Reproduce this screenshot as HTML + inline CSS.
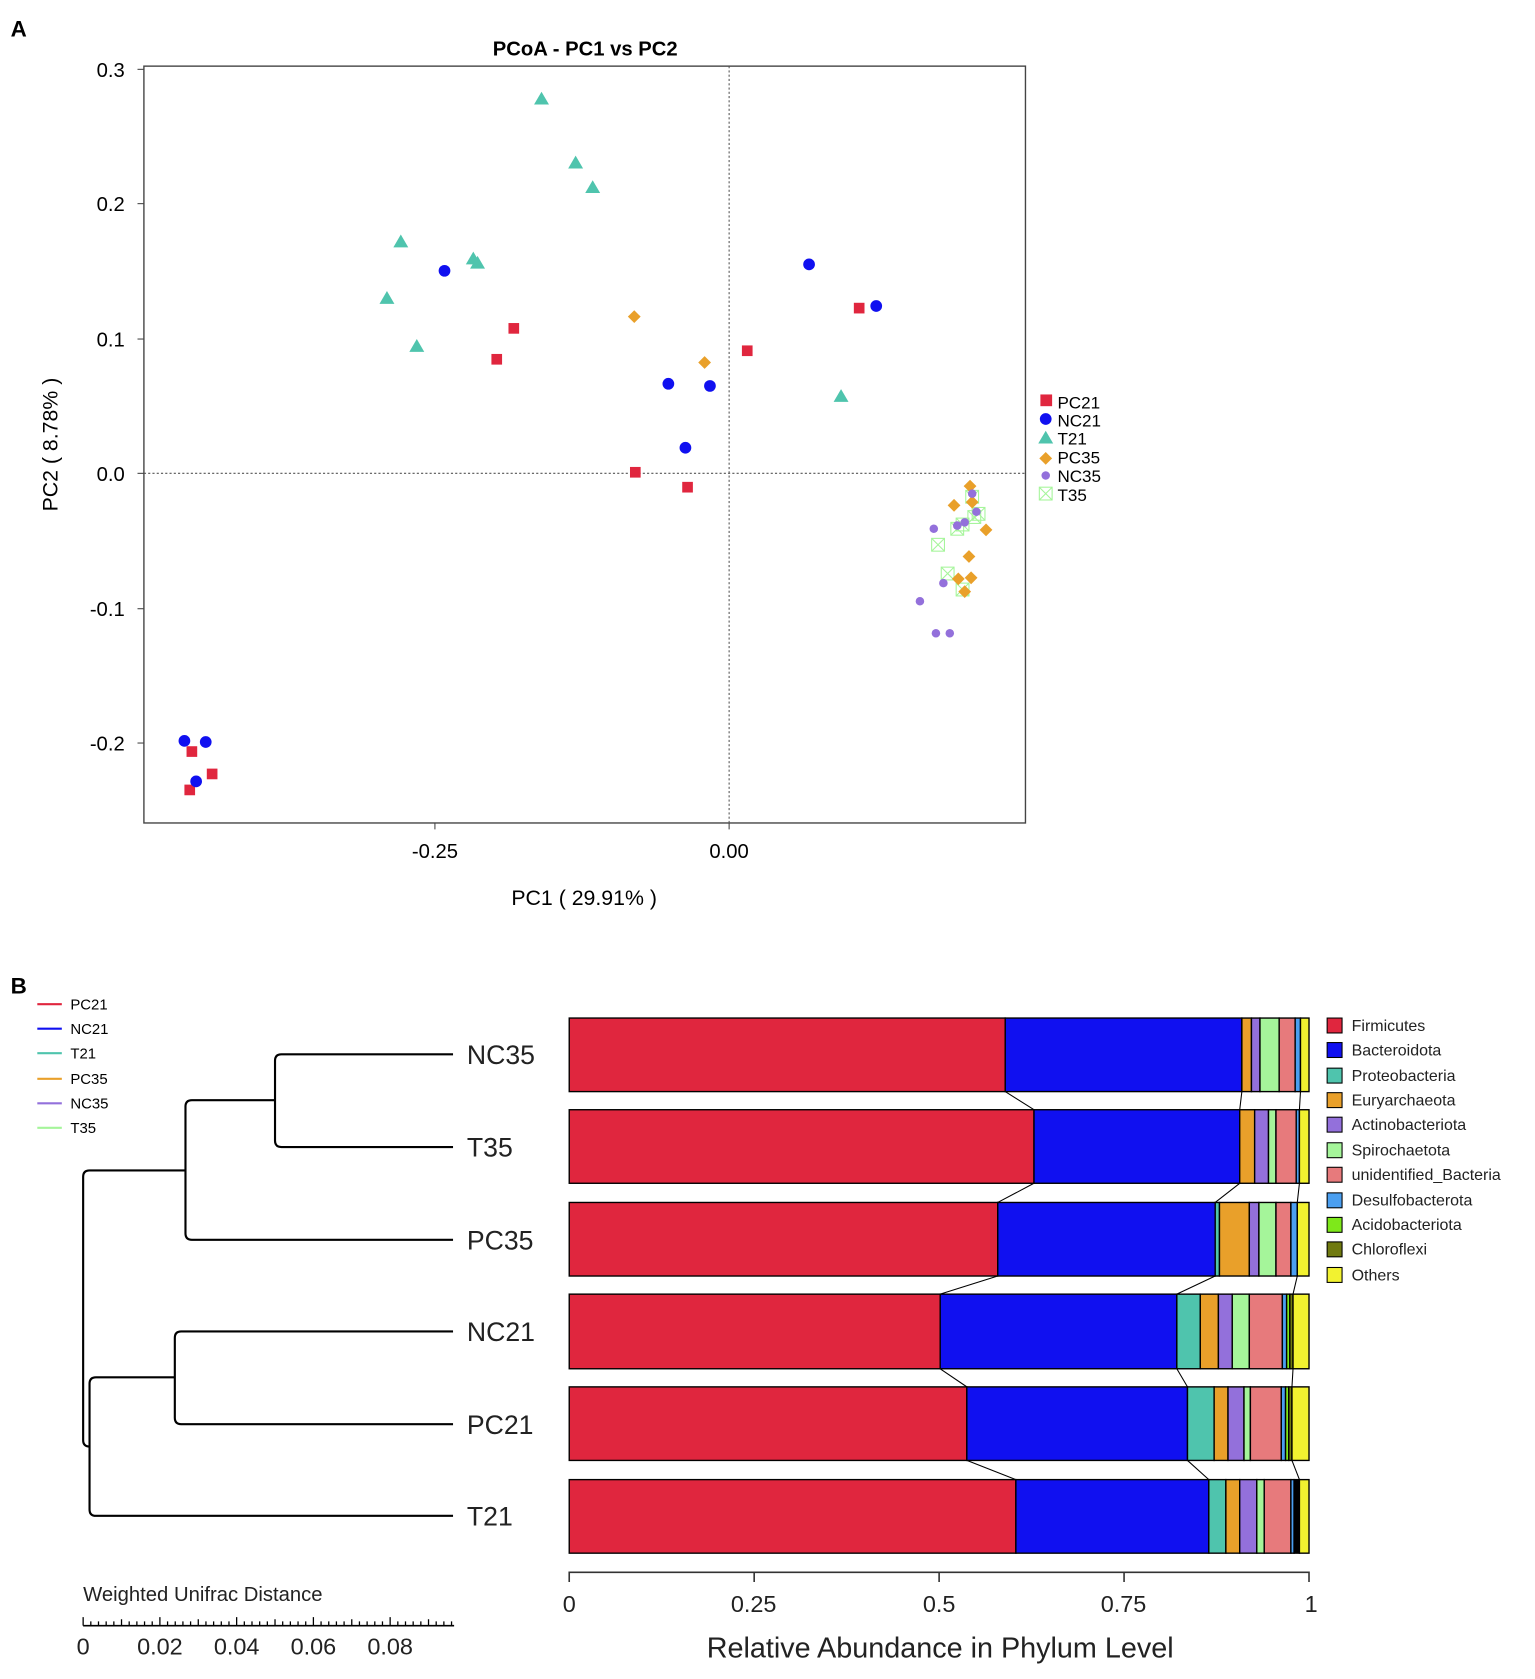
<!DOCTYPE html>
<html><head><meta charset="utf-8"><style>html,body{margin:0;padding:0;background:#fff}svg{display:block}</style></head>
<body>
<svg width="1535" height="1679" viewBox="0 0 1440 1575" font-family="Liberation Sans, sans-serif">
<defs><g id="t"><rect x="-6" y="-6" width="12" height="12"/><path d="M-6 -6L6 6M6 -6L-6 6"/></g></defs>
<text x="10" y="34" font-size="21" font-weight="bold">A</text>
<text x="549" y="52" font-size="19" font-weight="bold" text-anchor="middle">PCoA - PC1 vs PC2</text>
<rect x="135" y="62" width="827" height="710" fill="none" stroke="#444" stroke-width="1.3"/>
<line x1="684" y1="62" x2="684" y2="772" stroke="#555" stroke-dasharray="2,2"/>
<line x1="135" y1="444" x2="962" y2="444" stroke="#555" stroke-dasharray="2,2"/>
<g font-size="19" text-anchor="end">
<text x="117" y="72">0.3</text><text x="117" y="198">0.2</text><text x="117" y="325">0.1</text><text x="117" y="451">0.0</text><text x="117" y="578">-0.1</text><text x="117" y="704">-0.2</text></g>
<g stroke="#444"><line x1="129" y1="65" x2="135" y2="65"/><line x1="129" y1="191" x2="135" y2="191"/><line x1="129" y1="318" x2="135" y2="318"/><line x1="129" y1="444" x2="135" y2="444"/><line x1="129" y1="571" x2="135" y2="571"/><line x1="129" y1="697" x2="135" y2="697"/><line x1="408" y1="772" x2="408" y2="778"/><line x1="684" y1="772" x2="684" y2="778"/></g>
<text x="408" y="805" font-size="19" text-anchor="middle">-0.25</text>
<text x="684" y="805" font-size="19" text-anchor="middle">0.00</text>
<text x="548" y="849" font-size="20" text-anchor="middle">PC1 ( 29.91% )</text>
<text transform="translate(54,417) rotate(-90)" font-size="20" text-anchor="middle">PC2 ( 8.78% )</text>
<g fill="#e0263e">
<rect x="591" y="438" width="10" height="10"/><rect x="640" y="452" width="10" height="10"/><rect x="461" y="332" width="10" height="10"/><rect x="477" y="303" width="10" height="10"/><rect x="696" y="324" width="10" height="10"/><rect x="801" y="284" width="10" height="10"/><rect x="175" y="700" width="10" height="10"/><rect x="194" y="721" width="10" height="10"/><rect x="173" y="736" width="10" height="10"/></g>
<g fill="#1010f0">
<circle cx="417" cy="254" r="5.5"/><circle cx="627" cy="360" r="5.5"/><circle cx="666" cy="362" r="5.5"/><circle cx="643" cy="420" r="5.5"/><circle cx="759" cy="248" r="5.5"/><circle cx="822" cy="287" r="5.5"/><circle cx="173" cy="695" r="5.5"/><circle cx="193" cy="696" r="5.5"/><circle cx="184" cy="733" r="5.5"/></g>
<g fill="#4fc4ad">
<path d="M508 86l7 12h-14z"/><path d="M540 146l7 12h-14z"/><path d="M556 169l7 12h-14z"/><path d="M376 220l7 12h-14z"/><path d="M444 236l7 12h-14z"/><path d="M448 240l7 12h-14z"/><path d="M363 273l7 12h-14z"/><path d="M391 318l7 12h-14z"/><path d="M789 365l7 12h-14z"/></g>
<g stroke="#a5f59a" fill="none">
<use href="#t" x="912" y="466"/><use href="#t" x="914" y="485"/><use href="#t" x="880" y="511"/><use href="#t" x="889" y="538"/><use href="#t" x="898" y="496"/><use href="#t" x="903" y="492"/><use href="#t" x="918" y="482"/><use href="#t" x="903" y="553"/></g>
<g fill="#e9a02a">
<path d="M595 291l6 6-6 6-6-6z"/><path d="M661 334l6 6-6 6-6-6z"/><path d="M895 468l6 6-6 6-6-6z"/><path d="M912 465l6 6-6 6-6-6z"/><path d="M925 491l6 6-6 6-6-6z"/><path d="M909 516l6 6-6 6-6-6z"/><path d="M899 537l6 6-6 6-6-6z"/><path d="M911 536l6 6-6 6-6-6z"/><path d="M905 549l6 6-6 6-6-6z"/><path d="M910 450l6 6-6 6-6-6z"/></g>
<g fill="#9370db">
<circle cx="876" cy="496" r="4"/><circle cx="863" cy="564" r="4"/><circle cx="878" cy="594" r="4"/><circle cx="891" cy="594" r="4"/><circle cx="885" cy="547" r="4"/><circle cx="905" cy="490" r="4"/><circle cx="912" cy="463" r="4"/><circle cx="916" cy="480" r="4"/><circle cx="898" cy="493" r="4"/></g>
<g font-size="16">
<rect x="976" y="370" width="11" height="11" fill="#e0263e"/><text x="992" y="383">PC21</text>
<circle cx="981" cy="393" r="5.5" fill="#1010f0"/><text x="992" y="400">NC21</text>
<path d="M981 404l7 12h-14z" fill="#4fc4ad"/><text x="992" y="417">T21</text>
<path d="M981 424l6 6-6 6-6-6z" fill="#e9a02a"/><text x="992" y="435">PC35</text>
<circle cx="981" cy="446" r="4" fill="#9370db"/><text x="992" y="452">NC35</text>
<use href="#t" x="981" y="463" stroke="#a5f59a" fill="none"/><text x="992" y="470">T35</text></g>

<text x="10" y="932" font-size="21" font-weight="bold">B</text>
<g font-size="14">
<line x1="35" y1="942" x2="58" y2="942" stroke="#e0263e" stroke-width="2"/><text x="66" y="947">PC21</text>
<line x1="35" y1="965" x2="58" y2="965" stroke="#1010f0" stroke-width="2"/><text x="66" y="970">NC21</text>
<line x1="35" y1="988" x2="58" y2="988" stroke="#4fc4ad" stroke-width="2"/><text x="66" y="993">T21</text>
<line x1="35" y1="1012" x2="58" y2="1012" stroke="#e9a02a" stroke-width="2"/><text x="66" y="1017">PC35</text>
<line x1="35" y1="1035" x2="58" y2="1035" stroke="#9370db" stroke-width="2"/><text x="66" y="1040">NC35</text>
<line x1="35" y1="1058" x2="58" y2="1058" stroke="#a5f59a" stroke-width="2"/><text x="66" y="1063">T35</text></g>
<g fill="none" stroke="#000" stroke-width="2">
<path d="M425 989H264Q258 989 258 995V1070Q258 1076 264 1076H425"/>
<path d="M258 1032H180Q174 1032 174 1038V1157Q174 1163 180 1163H425"/>
<path d="M425 1249H170Q164 1249 164 1255V1330Q164 1336 170 1336H425"/>
<path d="M164 1292H90Q84 1292 84 1298V1416Q84 1422 90 1422H425"/>
<path d="M174 1098H84Q78 1098 78 1104V1351Q78 1357 84 1357"/></g>
<g font-size="25" fill="#222">
<text x="438" y="998">NC35</text><text x="438" y="1085">T35</text><text x="438" y="1172">PC35</text><text x="438" y="1258">NC21</text><text x="438" y="1345">PC21</text><text x="438" y="1431">T21</text></g>
<text x="78" y="1502" font-size="19" fill="#222">Weighted Unifrac Distance</text>
<line x1="78" y1="1525" x2="426" y2="1525" stroke="#000" stroke-width="1.5"/>
<path d="M78 1517V1525M85.2 1521V1525M92.4 1521V1525M99.6 1521V1525M106.8 1521V1525M114 1519V1525M121.2 1521V1525M128.4 1521V1525M135.6 1521V1525M142.8 1521V1525M150 1517V1525M157.2 1521V1525M164.4 1521V1525M171.6 1521V1525M178.8 1521V1525M186 1519V1525M193.2 1521V1525M200.4 1521V1525M207.6 1521V1525M214.8 1521V1525M222 1517V1525M229.2 1521V1525M236.4 1521V1525M243.6 1521V1525M250.8 1521V1525M258 1519V1525M265.2 1521V1525M272.4 1521V1525M279.6 1521V1525M286.8 1521V1525M294 1517V1525M301.2 1521V1525M308.4 1521V1525M315.6 1521V1525M322.8 1521V1525M330 1519V1525M337.2 1521V1525M344.4 1521V1525M351.6 1521V1525M358.8 1521V1525M366 1517V1525M373.2 1521V1525M380.4 1521V1525M387.6 1521V1525M394.8 1521V1525M402 1519V1525M409.2 1521V1525M416.4 1521V1525M423.6 1521V1525" stroke="#000" stroke-width="1.2"/>
<g font-size="22" text-anchor="middle" fill="#222">
<text x="78" y="1552">0</text><text x="150" y="1552">0.02</text><text x="222" y="1552">0.04</text><text x="294" y="1552">0.06</text><text x="366" y="1552">0.08</text></g>

<g stroke="#000" stroke-width="1.3">
<rect x="534" y="955" width="409" height="69" fill="#e0263e"/><rect x="943" y="955" width="222" height="69" fill="#1010f0"/><rect x="1165" y="955" width="9" height="69" fill="#e9a02a"/><rect x="1174" y="955" width="8" height="69" fill="#9370db"/><rect x="1182" y="955" width="18" height="69" fill="#a5f59a"/><rect x="1200" y="955" width="15" height="69" fill="#e77a7c"/><rect x="1215" y="955" width="5" height="69" fill="#4b9ff0"/><rect x="1220" y="955" width="8" height="69" fill="#f2f230"/>
<rect x="534" y="1041" width="436" height="69" fill="#e0263e"/><rect x="970" y="1041" width="193" height="69" fill="#1010f0"/><rect x="1163" y="1041" width="14" height="69" fill="#e9a02a"/><rect x="1177" y="1041" width="13" height="69" fill="#9370db"/><rect x="1190" y="1041" width="7" height="69" fill="#a5f59a"/><rect x="1197" y="1041" width="19" height="69" fill="#e77a7c"/><rect x="1216" y="1041" width="3" height="69" fill="#4b9ff0"/><rect x="1219" y="1041" width="9" height="69" fill="#f2f230"/>
<rect x="534" y="1128" width="402" height="69" fill="#e0263e"/><rect x="936" y="1128" width="204" height="69" fill="#1010f0"/><rect x="1140" y="1128" width="4" height="69" fill="#4fc4ad"/><rect x="1144" y="1128" width="28" height="69" fill="#e9a02a"/><rect x="1172" y="1128" width="9" height="69" fill="#9370db"/><rect x="1181" y="1128" width="16" height="69" fill="#a5f59a"/><rect x="1197" y="1128" width="14" height="69" fill="#e77a7c"/><rect x="1211" y="1128" width="6" height="69" fill="#4b9ff0"/><rect x="1217" y="1128" width="11" height="69" fill="#f2f230"/>
<rect x="534" y="1214" width="348" height="70" fill="#e0263e"/><rect x="882" y="1214" width="222" height="70" fill="#1010f0"/><rect x="1104" y="1214" width="22" height="70" fill="#4fc4ad"/><rect x="1126" y="1214" width="17" height="70" fill="#e9a02a"/><rect x="1143" y="1214" width="13" height="70" fill="#9370db"/><rect x="1156" y="1214" width="16" height="70" fill="#a5f59a"/><rect x="1172" y="1214" width="31" height="70" fill="#e77a7c"/><rect x="1203" y="1214" width="4" height="70" fill="#4b9ff0"/><rect x="1207" y="1214" width="3" height="70" fill="#7ee81a"/><rect x="1210" y="1214" width="3" height="70" fill="#707a10"/><rect x="1213" y="1214" width="15" height="70" fill="#f2f230"/>
<rect x="534" y="1301" width="373" height="69" fill="#e0263e"/><rect x="907" y="1301" width="207" height="69" fill="#1010f0"/><rect x="1114" y="1301" width="25" height="69" fill="#4fc4ad"/><rect x="1139" y="1301" width="13" height="69" fill="#e9a02a"/><rect x="1152" y="1301" width="15" height="69" fill="#9370db"/><rect x="1167" y="1301" width="6" height="69" fill="#a5f59a"/><rect x="1173" y="1301" width="29" height="69" fill="#e77a7c"/><rect x="1202" y="1301" width="4" height="69" fill="#4b9ff0"/><rect x="1206" y="1301" width="3" height="69" fill="#7ee81a"/><rect x="1209" y="1301" width="3" height="69" fill="#707a10"/><rect x="1212" y="1301" width="16" height="69" fill="#f2f230"/>
<rect x="534" y="1388" width="419" height="69" fill="#e0263e"/><rect x="953" y="1388" width="181" height="69" fill="#1010f0"/><rect x="1134" y="1388" width="16" height="69" fill="#4fc4ad"/><rect x="1150" y="1388" width="13" height="69" fill="#e9a02a"/><rect x="1163" y="1388" width="16" height="69" fill="#9370db"/><rect x="1179" y="1388" width="7" height="69" fill="#a5f59a"/><rect x="1186" y="1388" width="25" height="69" fill="#e77a7c"/><rect x="1211" y="1388" width="3" height="69" fill="#4b9ff0"/><rect x="1214" y="1388" width="5" height="69" fill="#000"/><rect x="1219" y="1388" width="9" height="69" fill="#f2f230"/>
</g>
<g stroke="#000" stroke-width="1">
<path d="M943 1024L970 1041M970 1110L936 1128M936 1197L882 1214M882 1284L907 1301M907 1370L953 1388"/>
<path d="M1165 1024L1163 1041M1163 1110L1140 1128M1140 1197L1104 1214M1104 1284L1114 1301M1114 1370L1134 1388"/>
<path d="M1220 1024L1219 1041M1219 1110L1217 1128M1217 1197L1213 1214M1213 1284L1212 1301M1212 1370L1219 1388"/>
</g>
<path d="M534 1484V1475H1228V1484M707.5 1475V1484M881 1475V1484M1054.5 1475V1484" fill="none" stroke="#333" stroke-width="1.5"/>
<g font-size="22" text-anchor="middle" fill="#222">
<text x="534" y="1512">0</text><text x="707" y="1512">0.25</text><text x="881" y="1512">0.5</text><text x="1054" y="1512">0.75</text><text x="1230" y="1512">1</text></g>
<text x="882" y="1555" font-size="27" text-anchor="middle" fill="#222">Relative Abundance in Phylum Level</text>
<g font-size="15" fill="#222" stroke="#000" stroke-width="1">
<rect x="1245" y="955" width="14" height="14" fill="#e0263e"/><rect x="1245" y="978" width="14" height="14" fill="#1010f0"/><rect x="1245" y="1002" width="14" height="14" fill="#4fc4ad"/><rect x="1245" y="1025" width="14" height="14" fill="#e9a02a"/><rect x="1245" y="1048" width="14" height="14" fill="#9370db"/><rect x="1245" y="1072" width="14" height="14" fill="#a5f59a"/><rect x="1245" y="1095" width="14" height="14" fill="#e77a7c"/><rect x="1245" y="1119" width="14" height="14" fill="#4b9ff0"/><rect x="1245" y="1142" width="14" height="14" fill="#7ee81a"/><rect x="1245" y="1165" width="14" height="14" fill="#707a10"/><rect x="1245" y="1189" width="14" height="14" fill="#f2f230"/></g>
<g font-size="15" fill="#222">
<text x="1268" y="967">Firmicutes</text><text x="1268" y="990">Bacteroidota</text><text x="1268" y="1014">Proteobacteria</text><text x="1268" y="1037">Euryarchaeota</text><text x="1268" y="1060">Actinobacteriota</text><text x="1268" y="1084">Spirochaetota</text><text x="1268" y="1107">unidentified_Bacteria</text><text x="1268" y="1131">Desulfobacterota</text><text x="1268" y="1154">Acidobacteriota</text><text x="1268" y="1177">Chloroflexi</text><text x="1268" y="1201">Others</text></g>
</svg>
</body></html>
